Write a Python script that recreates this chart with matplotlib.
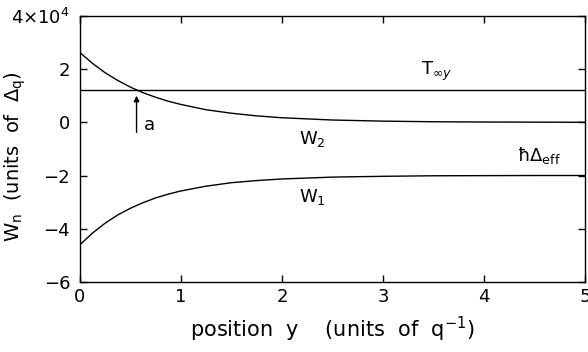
import matplotlib
matplotlib.use("Agg")
import matplotlib.pyplot as plt

# potential curves W_n(y), in units of 1e4 Delta_q
y_pos = [0.0, 0.125, 0.25, 0.375, 0.5, 0.625, 0.75, 0.875, 1.0, 1.25, 1.5, 1.75,
         2.0, 2.5, 3.0, 3.5, 4.0, 4.5, 5.0]
w2 = [2.62, 2.21, 1.86, 1.57, 1.32, 1.11, 0.94, 0.79, 0.67, 0.47, 0.34, 0.24,
      0.17, 0.085, 0.043, 0.02, 0.01, 0.005, 0.0]
w1 = [-4.6, -4.16, -3.79, -3.48, -3.23, -3.02, -2.84, -2.70, -2.58, -2.40, -2.27, -2.19,
      -2.13, -2.06, -2.03, -2.01, -2.005, -2.0, -2.0]
t_inf = 1.2
crossing_y = 0.56

x_ticks = [0, 1, 2, 3, 4, 5]
y_ticks = [-6, -4, -2, 0, 2, 4]
y_ticklabels = ["\u22126", "\u22124", "\u22122", "0", "2", "4\u00d710$^4$"]

plt.rcParams["font.family"] = "DejaVu Sans"
plt.rcParams["mathtext.fontset"] = "dejavusans"

fig = plt.figure(figsize=(5.88, 3.52), dpi=100)
ax = fig.add_axes([0.136, 0.199, 0.859, 0.756])

ax.plot(y_pos, w2, color="black", lw=1.0)
ax.plot(y_pos, w1, color="black", lw=1.0)
ax.axhline(t_inf, color="black", lw=1.0)

ax.annotate("", xy=(crossing_y, 1.0), xytext=(crossing_y, -0.38),
            arrowprops=dict(arrowstyle="-|>", color="black", lw=1.0,
                            mutation_scale=8, shrinkA=0, shrinkB=0))
ax.text(crossing_y + 0.07, -0.1, "a", fontsize=13, va="center", ha="left")

ax.text(3.38, 1.9, r"T$_{\infty y}$", fontsize=13, va="center", ha="left")
ax.text(2.17, -0.62, r"W$_2$", fontsize=13, va="center", ha="left")
ax.text(2.17, -2.8, r"W$_1$", fontsize=13, va="center", ha="left")
ax.text(4.33, -1.25, "\u0127\u0394$_{\\rm eff}$", fontsize=13, va="center", ha="left")

ax.set_xlim(0, 5)
ax.set_ylim(-6, 4)
ax.set_xticks(x_ticks)
ax.set_yticks(y_ticks)
ax.set_yticklabels(y_ticklabels)
ax.tick_params(direction="in", length=5, width=1.0, labelsize=13,
               top=True, right=True)
ax.tick_params(axis="y", pad=7)
ax.tick_params(axis="x", pad=4)
for s in ax.spines.values():
    s.set_linewidth(1.0)

ax.set_xlabel(r"position  y    (units  of  q$^{-1}$)", fontsize=15)
ax.xaxis.set_label_coords(0.5, -0.125)
ax.set_ylabel(r"W$_{\rm n}$  (units  of  $\Delta_{\rm q}$)", fontsize=14)
ax.yaxis.set_label_coords(-0.102, 0.47)

fig.savefig("out.png", dpi=100)
